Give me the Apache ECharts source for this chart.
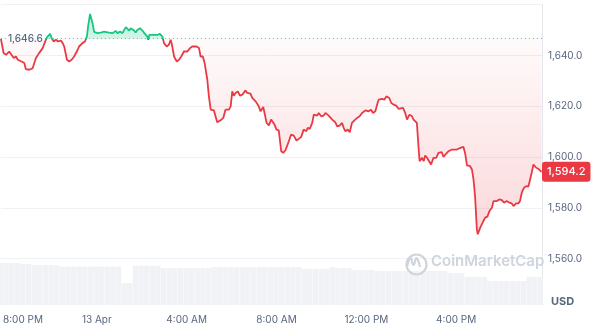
<!DOCTYPE html>
<html><head><meta charset="utf-8">
<script src="https://cdn.jsdelivr.net/npm/echarts@6/dist/echarts.min.js"></script>
<style>html,body{margin:0;padding:0;background:#fff}#c{width:600px;height:326px}</style>
</head><body><div id="c"></div>
<script>
// hours relative to 13 Apr 00:00
const hours = [
-4.27,-4.15,-4.04,-3.90,-3.82,-3.70,-3.60,-3.52,-3.45,-3.35,
-3.23,-3.16,-3.01,-2.86,-2.79,-2.71,-2.57,-2.41,-2.27,-2.19,
-2.08,-2.01,-1.92,-1.82,-1.72,-1.60,-1.52,-1.45,-1.33,-1.23,
-1.12,-1.01,-0.89,-0.79,-0.71,-0.64,-0.53,-0.44,-0.39,-0.30,
-0.19,-0.12,0.03,0.18,0.32,0.40,0.55,0.70,0.84,0.92,
1.04,1.14,1.29,1.36,1.44,1.51,1.66,1.73,1.81,1.92,
2.03,2.10,2.18,2.25,2.29,2.34,2.47,2.55,2.70,2.81,
2.92,2.99,3.11,3.21,3.29,3.33,3.44,3.56,3.66,3.76,
3.88,4.03,4.15,4.25,4.32,4.44,4.55,4.62,4.72,4.80,
4.92,4.99,5.07,5.21,5.36,5.51,5.63,5.73,5.88,5.96,
6.03,6.10,6.18,6.28,6.37,6.48,6.62,6.70,6.84,6.92,
7.07,7.21,7.29,7.41,7.47,7.56,7.66,7.76,7.81,7.91,
8.00,8.10,8.18,8.21,8.30,8.40,8.48,8.55,8.65,8.77,
8.89,8.99,9.10,9.21,9.33,9.39,9.48,9.59,9.66,9.73,
9.81,9.88,9.99,10.10,10.18,10.32,10.48,10.62,10.70,10.81,
10.92,10.99,11.07,11.17,11.26,11.36,11.47,11.59,11.70,11.81,
11.85,11.96,12.10,12.21,12.30,12.40,12.50,12.55,12.70,12.80,
12.89,12.95,13.02,13.11,13.21,13.33,13.44,13.51,13.63,13.73,
13.81,13.92,14.03,14.10,14.18,14.25,14.32,14.37,14.48,14.55,
14.62,14.70,14.77,14.88,14.99,15.11,15.21,15.29,15.36,15.43,
15.56,15.66,15.81,15.88,16.03,16.10,16.18,16.25,16.32,16.40,
16.48,16.62,16.70,16.77,16.84,16.92,16.96,17.07,17.14,17.21,
17.29,17.39,17.48,17.59,17.66,17.73,17.81,17.92,18.03,18.13,
18.25,18.37,18.47,18.55,18.67,18.77,18.84,18.92,19.02,19.11,
19.21,19.29,19.36,19.44,19.56,19.66,19.73,19.80
];
const prices = [
1646.6,1640.94,1640.28,1641.57,1640.94,1638.98,1639.61,1638.31,1638.59,1637.65,
1637.02,1634.66,1634.39,1634.90,1635.68,1638.98,1640.94,1642.91,1646.17,1647.46,
1648.52,1646.83,1645.50,1646.17,1645.50,1645.89,1644.87,1643.54,1638.31,1637.65,
1638.31,1639.61,1641.57,1643.54,1643.54,1644.87,1645.50,1647.46,1651.39,1656.37,
1652.72,1649.31,1648.80,1649.03,1649.42,1648.80,1649.03,1648.80,1649.70,1648.80,
1649.42,1648.80,1651.15,1650.76,1649.82,1650.76,1649.82,1649.03,1650.09,1650.76,
1649.82,1649.03,1648.80,1647.46,1646.17,1648.13,1648.13,1648.52,1648.13,1648.52,
1647.46,1644.87,1643.54,1644.20,1646.17,1644.87,1639.61,1637.65,1638.31,1639.61,
1641.57,1641.57,1642.91,1643.54,1644.20,1643.54,1642.91,1639.61,1639.61,1637.02,
1630.46,1623.91,1618.68,1618.41,1613.70,1614.48,1615.43,1618.68,1618.68,1619.98,
1625.87,1624.18,1625.24,1625.87,1624.18,1624.57,1626.26,1625.24,1624.97,1623.28,
1621.94,1619.98,1618.02,1619.74,1619.98,1613.46,1612.52,1614.76,1614.09,1612.79,
1610.83,1610.56,1610.83,1602.31,1601.68,1602.71,1602.98,1606.24,1608.87,1608.48,
1606.51,1607.18,1607.97,1610.83,1610.17,1611.50,1611.11,1613.46,1616.72,1617.39,
1616.33,1617.39,1616.05,1616.33,1617.39,1616.33,1614.76,1613.70,1612.13,1612.40,
1613.46,1611.50,1610.17,1610.83,1609.77,1613.46,1614.48,1615.43,1616.05,1617.39,
1618.02,1618.41,1618.02,1618.68,1617.39,1618.02,1621.31,1622.61,1622.89,1622.61,
1623.91,1624.57,1623.28,1621.31,1620.65,1620.25,1618.96,1618.68,1619.35,1617.39,
1614.76,1616.72,1616.05,1614.76,1614.09,1613.46,1604.28,1598.39,1599.72,1598.39,
1600.62,1599.72,1599.05,1597.09,1599.72,1599.72,1601.68,1601.02,1601.92,1600.11,
1601.41,1602.31,1602.98,1603.26,1602.98,1602.70,1603.65,1602.98,1604.04,1601.41,
1596.70,1596.42,1595.13,1591.20,1584.65,1571.57,1569.61,1572.24,1572.87,1574.83,
1576.17,1576.56,1578.76,1580.09,1582.68,1583.35,1582.68,1583.35,1583.08,1582.05,
1582.68,1582.05,1581.78,1580.72,1581.78,1581.78,1582.68,1585.98,1587.94,1588.57,
1588.34,1591.20,1593.83,1597.09,1595.80,1595.40,1595.13,1594.2
];
const openPrice = 1646.6;
const lastPrice = 1594.2;
// volume, one bar per 15 minutes starting at -4.25 h
const volStartHour = -4.25;
const volStepHour = 0.25;
const volumes = [
42,42,42,42,41,41,40,40,40,40,
39.5,38.5,38.5,38.5,38.5,38.5,38.5,38.5,38.5,38.5,
38.5,38.5,22,22,39.3,39.3,39.3,39.3,39.3,37,
37,37,37,37,37,37,37,37,38,38,
38,38,38,38,38,38,38,38,38,38,
38,38,38,38,36,36,36,36,36,38,
37,37,37,35,35,35,35,34,34,34,
34,34,34,34,34,34,34,34,34,34,
32,32,32,28,28,28,28,24,24,24,
24,24,24,24,28,28,28
];
const xTickHours = [-4, 0, 4, 8, 12, 16];
const xTickLabels = ['8:00 PM', '13 Apr', '4:00 AM', '8:00 AM', '12:00 PM', '4:00 PM'];
const yTickValues = [1560, 1580, 1600, 1620, 1640];

const RED = '#ea3943', GREEN = '#16c784', TXT = '#58667e', FONT = 'Inter, "Noto Sans", sans-serif';
const fmt = v => v.toLocaleString('en-US', {minimumFractionDigits: 1, maximumFractionDigits: 1});

const priceData = hours.map((h, i) => [h, prices[i]]);
const volData = volumes.map((v, i) => [volStartHour + i * volStepHour, v]);

const chart = echarts.init(document.getElementById('c'), null, {renderer: 'canvas'});
const GRID_TOP = 4.7, PRICE_BOTTOM = 16.5, VOL_BOTTOM = 21, RIGHT = 58;
const XMIN = -4.27, XMAX = 19.82;

const option = {
  animation: false,
  backgroundColor: '#fff',
  textStyle: {fontFamily: FONT},
  grid: [
    {left: 0, right: RIGHT, top: GRID_TOP, bottom: PRICE_BOTTOM},
    {left: 0, right: RIGHT, top: GRID_TOP, bottom: VOL_BOTTOM}
  ],
  xAxis: [
    {type: 'value', gridIndex: 0, min: XMIN, max: XMAX,
     axisLine: {show: false}, axisTick: {show: false}, splitLine: {show: false},
     axisLabel: {
       customValues: xTickHours, color: TXT, fontSize: 10, fontFamily: FONT, margin: 5,
       formatter: v => {
         const i = xTickHours.indexOf(v);
         if (i < 0) return '';
         return i === 0 ? '{a|' + xTickLabels[i] + '}' : xTickLabels[i];
       },
       rich: {a: {padding: [0, 0, 0, 32], color: TXT, fontSize: 10, fontFamily: FONT}}
     }},
    {type: 'value', gridIndex: 1, min: XMIN, max: XMAX, show: false}
  ],
  yAxis: [
    {type: 'value', gridIndex: 0, position: 'right', min: 1540, max: 1660, interval: 20,
     axisLine: {show: false}, axisTick: {show: false},
     splitLine: {show: true, lineStyle: {color: ['rgba(0,0,0,0)', '#eff1f4', '#eff1f4', '#eff1f4', '#eff1f4', '#eff1f4', '#eff1f4'], width: 1}},
     axisLabel: {customValues: yTickValues, color: TXT, fontSize: 10, fontFamily: FONT, margin: 6,
       formatter: v => fmt(v)}},
    {type: 'value', gridIndex: 1, position: 'right', min: 0, max: 300,
     axisLine: {show: true, onZero: false, lineStyle: {color: '#e3e6ea', width: 1}},
     axisTick: {show: false}, axisLabel: {show: false}, splitLine: {show: false}}
  ],
  graphic: [
    {type: 'circle', left: 404, top: 252, shape: {r: 10}, style: {fill: 'none', stroke: '#cfd5dd', lineWidth: 2.2}, silent: true, z: 1},
    {type: 'polyline', silent: true, z: 1,
     shape: {points: [[407, 267], [410.5, 258], [413.5, 265], [416.5, 258], [420, 267]], smooth: 0.4},
     style: {fill: 'none', stroke: '#cfd5dd', lineWidth: 2.2}},
    {type: 'text', left: 431, top: 254, silent: true, z: 1,
     style: {text: 'CoinMarketCap', fill: '#cfd5dd', font: '600 15px Inter, "Noto Sans", sans-serif'}},
    {type: 'text', left: 551, top: 296, silent: true,
     style: {text: 'USD', fill: TXT, font: 'bold 11px Inter, "Noto Sans", sans-serif'}}
  ],
  series: [
    {type: 'bar', xAxisIndex: 1, yAxisIndex: 1, data: volData, barWidth: 5.4,
     itemStyle: {color: '#f0f2f5'}, silent: true, z: 0},
    {type: 'line', xAxisIndex: 0, yAxisIndex: 0, data: priceData, showSymbol: false, symbol: 'none',
     lineStyle: {width: 1.8, color: RED}, z: 3,
     areaStyle: {origin: openPrice, color: 'rgba(234,57,67,0.1)'},
     markLine: {
       silent: true, symbol: ['none', 'none'], animation: false, z: 2,
       data: [
         {yAxis: openPrice,
          lineStyle: {type: [1, 3], color: '#9aa4b4', width: 1},
          label: {show: true, position: 'start', align: 'left', distance: -6, formatter: fmt(openPrice),
                  color: TXT, fontSize: 10, fontWeight: 500, fontFamily: FONT,
                  backgroundColor: 'rgba(255,255,255,0.85)', padding: [1, 1]}},
         {yAxis: lastPrice,
          lineStyle: {color: 'rgba(0,0,0,0)', width: 1, type: 'solid'},
          label: {show: true, position: 'end', align: 'left', distance: 0, formatter: fmt(lastPrice),
                  color: '#fff', fontSize: 11, fontWeight: 500, fontFamily: FONT,
                  backgroundColor: RED, borderRadius: 3, padding: [5, 5, 4, 5]}}
       ]
     }}
  ]
};
chart.setOption(option);

const yB = chart.convertToPixel({yAxisIndex: 0}, openPrice);
const yLow = chart.convertToPixel({yAxisIndex: 0}, Math.min.apply(null, prices));
const yHigh = chart.convertToPixel({yAxisIndex: 0}, Math.max.apply(null, prices));
const H = 326, sB = yB / H;
const lineGrad = new echarts.graphic.LinearGradient(0, 0, 0, H, [
  {offset: 0, color: GREEN}, {offset: sB, color: GREEN},
  {offset: sB, color: RED}, {offset: 1, color: RED}], true);
const areaGrad = new echarts.graphic.LinearGradient(0, 0, 0, H, [
  {offset: 0, color: 'rgba(22,199,132,0.38)'},
  {offset: yHigh / H, color: 'rgba(22,199,132,0.38)'},
  {offset: sB, color: 'rgba(22,199,132,0.28)'},
  {offset: sB, color: 'rgba(234,57,67,0.03)'},
  {offset: yLow / H, color: 'rgba(234,57,67,0.28)'},
  {offset: 1, color: 'rgba(234,57,67,0.28)'}], true);
chart.setOption({series: [{}, {lineStyle: {color: lineGrad}, areaStyle: {color: areaGrad}}]});
</script>
</body></html>
